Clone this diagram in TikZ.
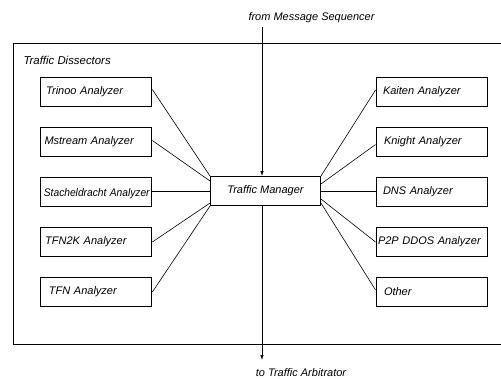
\documentclass[tikz,border=0pt]{standalone}
\usepackage{fontspec}
\usepackage{graphicx}
\setmainfont{Liberation Sans}
\usetikzlibrary{arrows.meta,calc}

\begin{document}
\begin{tikzpicture}[x=1pt,y=-1pt,
  every node/.style={font=\fontsize{11}{13}\selectfont\itshape},
  analyzer/.style={draw, line width=0.9pt, minimum height=29pt,
    text width=105pt, inner xsep=3pt, inner ysep=0pt, align=left},
  manager/.style={draw, line width=0.9pt, minimum width=110pt, minimum height=29pt},
  link/.style={line width=0.6pt},
  flow/.style={line width=0.7pt, -{Latex[length=5pt,width=3.5pt]}},
  frame/.style={line width=1pt}]
\useasboundingbox (0,0) rectangle (501,378);

% dissector frame (open on the right)
\draw[frame] (501,43) -- (13,43) -- (13,344) -- (501,344);
\node[anchor=west, font=\fontsize{11.4}{13}\selectfont\itshape] (title) at (20,60.5) {Traffic Dissectors};

% central manager
\node[manager] (tm) at (265.5,191) {Traffic Manager};

% left column
\node[analyzer] (trinoo) at (96.4,91.5)  {\hspace{2.3pt}\mbox{Trinoo Analyzer}};
\node[analyzer] (mstream) at (96.4,141.5) {\hspace{0.6pt}\mbox{Mstream Analyzer}};
\node[analyzer] (stach)  at (96.4,191.5) {\hspace{1pt}\scalebox{0.93}[1]{Stacheldracht Analyzer}};
\node[analyzer] (tfntwok) at (96.4,242)  {\hspace{1.3pt}\mbox{TFN2K Analyzer}};
\node[analyzer] (tfn)    at (96.4,292)   {\hspace{5pt}\mbox{TFN Analyzer}};

% right column
\node[analyzer] (kaiten) at (431.5,91.5)  {\hspace{4pt}\mbox{Kaiten Analyzer}};
\node[analyzer] (knight) at (431.5,141.5) {\hspace{5pt}\mbox{Knight Analyzer}};
\node[analyzer] (dns)    at (431.5,191.5) {\hspace{4pt}\mbox{DNS Analyzer}};
\node[analyzer] (ptp)    at (431.5,242)   {\hspace{-1pt}\mbox{P2P DDOS Analyzer}};
\node[analyzer] (other)  at (431.5,292)   {\hspace{5pt}\mbox{Other}};

% links to the manager
\draw[link] ([yshift=2pt]trinoo.east) -- (tm.north west);
\draw[link] ([yshift=1pt]mstream.east) -- ([yshift=10pt]tm.west);
\draw[link] (stach.east) -- (stach.east -| tm.west);
\draw[link] (tfntwok.east) -- ([yshift=-12pt]tm.west);
\draw[link] (tfn.east) -- (tm.south west);

\draw[link] ([yshift=1.5pt]kaiten.west) -- (tm.north east);
\draw[link] ([yshift=-3pt]knight.west) -- ([yshift=7pt]tm.east);
\draw[link] (dns.west) -- (dns.west -| tm.east);
\draw[link] (ptp.west) -- ([yshift=-8pt]tm.east);
\draw[link] ([yshift=2pt]other.west) -- ([yshift=-12pt]tm.east);

% message flow in and out
\node (from) at (311.5,18) {from Message Sequencer};
\node (to) at (301,373) {to Traffic Arbitrator};
\coordinate (src) at (262,27);
\coordinate (dst) at (262,360);
\draw[flow] (src) -- (src |- tm.north);
\draw[flow] (dst |- tm.south) -- (dst);
\end{tikzpicture}
\end{document}
